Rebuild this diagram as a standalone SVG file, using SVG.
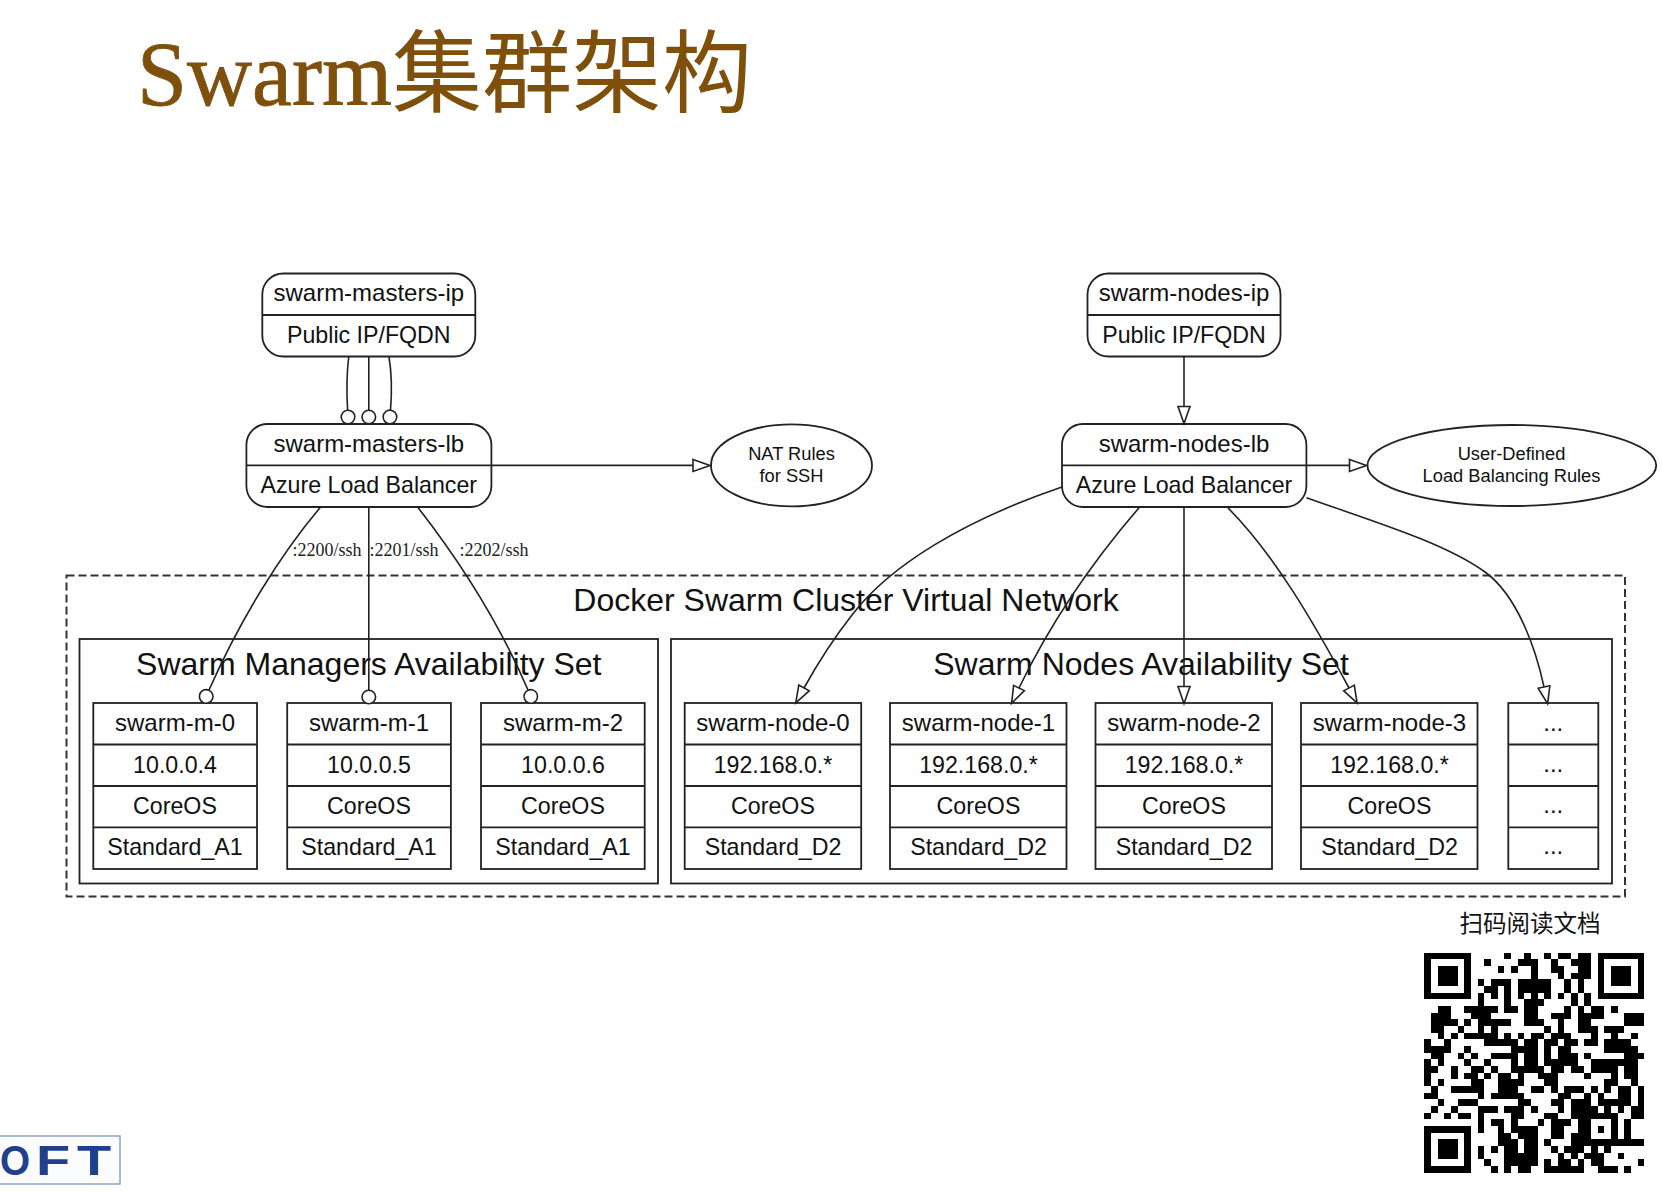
<svg xmlns="http://www.w3.org/2000/svg" width="1662" height="1192" viewBox="0 0 1662 1192">
<style>
text{font-family:"Liberation Sans",Arial,"Noto Sans CJK SC",sans-serif;fill:#111;text-anchor:middle}
.n{font-size:24px}
.m{font-size:23.2px}
.e{font-size:18.3px}
.c{font-size:32px}
.l{font-family:"Liberation Serif","Times New Roman",serif;font-size:18px;text-anchor:start;fill:#222}
.b{fill:#fff;stroke:#222;stroke-width:1.8}
.d{fill:none;stroke:#222;stroke-width:1.8}
.w{stroke:#222;stroke-width:1.6;fill:none}
.a{marker-end:url(#arrow)}
.o{marker-end:url(#odot)}
.g{font-family:"Liberation Sans",sans-serif;font-weight:700;font-size:43px;text-anchor:start;fill:#1f3f8f}
</style>
<defs>
<marker id="arrow" markerUnits="userSpaceOnUse" markerWidth="22" markerHeight="16" refX="1" refY="8" orient="auto" overflow="visible"><path d="M1 2L18 8L1 14Z" fill="#fff" stroke="#222" stroke-width="1.6"/></marker>
<marker id="odot" markerUnits="userSpaceOnUse" markerWidth="18" markerHeight="18" refX="1" refY="9" orient="auto" overflow="visible"><circle cx="8" cy="9" r="6.8" fill="#fff" stroke="#222" stroke-width="1.6"/></marker>
</defs>
<rect width="1662" height="1192" fill="#fff"/>
<text id="title" x="137" y="105" style="font-family:'Liberation Serif','Noto Sans CJK SC',serif;font-size:90px;text-anchor:start;fill:#7f4f0c"><tspan stroke="#7f4f0c" stroke-width="0.8">Swarm</tspan>集群架构</text>

<g id="cluster">
<rect x="66.5" y="575.5" width="1558.5" height="321" fill="none" stroke="#333" stroke-width="2" stroke-dasharray="8 4"/>
<text class="c" x="846" y="611">Docker Swarm Cluster Virtual Network</text>
</g>
<g id="managers-set">
<rect class="b" x="79.5" y="639" width="578.5" height="244.5"/>
<text class="c" x="368.8" y="675">Swarm Managers Availability Set</text>
</g>
<g id="nodes-set">
<rect class="b" x="671" y="639" width="941" height="244.5"/>
<text class="c" x="1141" y="675">Swarm Nodes Availability Set</text>
</g>

<g id="swarm-masters-ip">
<rect class="b" x="262.3" y="273.5" width="213" height="83" rx="21" ry="21"/>
<path class="d" d="M262.3 315H475.3"/>
<text class="n" x="368.8" y="301">swarm-masters-ip</text>
<text class="m" x="368.8" y="343">Public IP/FQDN</text>
</g>
<g id="swarm-masters-lb">
<rect class="b" x="246.4" y="424" width="245" height="83" rx="21" ry="21"/>
<path class="d" d="M246.4 465.4H491.4"/>
<text class="n" x="368.8" y="451.5">swarm-masters-lb</text>
<text class="m" x="368.8" y="493">Azure Load Balancer</text>
</g>
<g id="nat-rules">
<ellipse class="b" cx="791.5" cy="465.4" rx="80.5" ry="41"/>
<text class="e" x="791.5" y="460">NAT Rules</text>
<text class="e" x="791.5" y="481.5">for SSH</text>
</g>
<g id="swarm-nodes-ip">
<rect class="b" x="1087.5" y="273.5" width="193" height="83" rx="21" ry="21"/>
<path class="d" d="M1087.5 315H1280.5"/>
<text class="n" x="1184" y="301">swarm-nodes-ip</text>
<text class="m" x="1184" y="343">Public IP/FQDN</text>
</g>
<g id="swarm-nodes-lb">
<rect class="b" x="1062" y="424" width="244.4" height="83" rx="21" ry="21"/>
<path class="d" d="M1062 465.4H1306.4"/>
<text class="n" x="1184" y="451.5">swarm-nodes-lb</text>
<text class="m" x="1184" y="493">Azure Load Balancer</text>
</g>
<g id="lb-rules">
<ellipse class="b" cx="1511.8" cy="465.5" rx="144.4" ry="40.5"/>
<text class="e" x="1511.5" y="460">User-Defined</text>
<text class="e" x="1511.5" y="481.5">Load Balancing Rules</text>
</g>

<g id="swarm-m-0">
<rect class="b" x="93.3" y="703" width="163.7" height="166"/><path class="d" d="M93.3 744.5H257M93.3 786H257M93.3 827.3H257"/>
<text class="n" x="175" y="731">swarm-m-0</text><text class="m" x="175" y="772.5">10.0.0.4</text><text class="m" x="175" y="813.5">CoreOS</text><text class="m" x="175" y="855">Standard_A1</text>
</g>
<g id="swarm-m-1">
<rect class="b" x="287.2" y="703" width="163.7" height="166"/><path class="d" d="M287.2 744.5H450.9M287.2 786H450.9M287.2 827.3H450.9"/>
<text class="n" x="369" y="731">swarm-m-1</text><text class="m" x="369" y="772.5">10.0.0.5</text><text class="m" x="369" y="813.5">CoreOS</text><text class="m" x="369" y="855">Standard_A1</text>
</g>
<g id="swarm-m-2">
<rect class="b" x="481" y="703" width="163.7" height="166"/><path class="d" d="M481 744.5H644.7M481 786H644.7M481 827.3H644.7"/>
<text class="n" x="563" y="731">swarm-m-2</text><text class="m" x="563" y="772.5">10.0.0.6</text><text class="m" x="563" y="813.5">CoreOS</text><text class="m" x="563" y="855">Standard_A1</text>
</g>
<g id="swarm-node-0">
<rect class="b" x="684.7" y="703" width="176.5" height="166"/><path class="d" d="M684.7 744.5H861.2M684.7 786H861.2M684.7 827.3H861.2"/>
<text class="n" x="773" y="731">swarm-node-0</text><text class="m" x="773" y="772.5">192.168.0.*</text><text class="m" x="773" y="813.5">CoreOS</text><text class="m" x="773" y="855">Standard_D2</text>
</g>
<g id="swarm-node-1">
<rect class="b" x="890" y="703" width="176.5" height="166"/><path class="d" d="M890 744.5H1066.5M890 786H1066.5M890 827.3H1066.5"/>
<text class="n" x="978.5" y="731">swarm-node-1</text><text class="m" x="978.5" y="772.5">192.168.0.*</text><text class="m" x="978.5" y="813.5">CoreOS</text><text class="m" x="978.5" y="855">Standard_D2</text>
</g>
<g id="swarm-node-2">
<rect class="b" x="1095.5" y="703" width="176.5" height="166"/><path class="d" d="M1095.5 744.5H1272M1095.5 786H1272M1095.5 827.3H1272"/>
<text class="n" x="1184" y="731">swarm-node-2</text><text class="m" x="1184" y="772.5">192.168.0.*</text><text class="m" x="1184" y="813.5">CoreOS</text><text class="m" x="1184" y="855">Standard_D2</text>
</g>
<g id="swarm-node-3">
<rect class="b" x="1301" y="703" width="176.5" height="166"/><path class="d" d="M1301 744.5H1477.5M1301 786H1477.5M1301 827.3H1477.5"/>
<text class="n" x="1389.5" y="731">swarm-node-3</text><text class="m" x="1389.5" y="772.5">192.168.0.*</text><text class="m" x="1389.5" y="813.5">CoreOS</text><text class="m" x="1389.5" y="855">Standard_D2</text>
</g>
<g id="swarm-node-more">
<rect class="b" x="1508.3" y="703" width="90" height="166"/><path class="d" d="M1508.3 744.5H1598.3M1508.3 786H1598.3M1508.3 827.3H1598.3"/>
<text class="n" x="1553.3" y="731">...</text><text class="n" x="1553.3" y="772">...</text><text class="n" x="1553.3" y="813">...</text><text class="n" x="1553.3" y="854">...</text>
</g>

<g id="connectors">
<path class="w o" d="M348.7 357C346.5 375 346.5 392 347.6 410"/>
<path class="w o" d="M368.8 357V410"/>
<path class="w o" d="M389 357C392 375 392 392 390.5 410"/>
<path class="w a" d="M491.4 465.4H693"/>
<path class="w a" d="M1184 357V406.5"/>
<path class="w a" d="M1306.4 465.4H1349.5"/>
<path class="w o" d="M320.6 507C280 555 240 620 209 690"/>
<path class="w o" d="M368.8 507V690"/>
<path class="w o" d="M417.6 507C455 555 498 620 528 690"/>
<path class="w a" d="M1062 487C965 520 890 565 852 615C830 643 814 670 804 688"/>
<path class="w a" d="M1139.4 507.3C1087 568 1047 630 1019 688"/>
<path class="w a" d="M1184 507.3V686.5"/>
<path class="w a" d="M1227.4 507.3C1275 555 1315 625 1349 688"/>
<path class="w a" d="M1306.4 497.7C1375 522 1445 543 1485 572C1518 596 1536 650 1544 687"/>
<text class="l" x="292.5" y="556">:2200/ssh</text>
<text class="l" x="369.4" y="556">:2201/ssh</text>
<text class="l" x="459.5" y="556">:2202/ssh</text>
</g>

<text id="qr-caption" x="1530" y="931.5" style="font-family:'Noto Sans CJK SC',sans-serif;font-size:23.5px;fill:#111">扫码阅读文档</text>
<g id="qr" transform="translate(1424.3 952.7) scale(6.667)" shape-rendering="crispEdges">
<path fill-rule="evenodd" d="M0 0h7v7h-7zM1 1v5h5v-5zM2 2h3v3h-3zM26 0h7v7h-7zM27 1v5h5v-5zM28 2h3v3h-3zM0 26h7v7h-7zM1 27v5h5v-5zM2 28h3v3h-3z"/>
<path d="M12 0h1v1h-1zM15 0h1v1h-1zM18 0h1v1h-1zM20 0h2v1h-2zM23 0h2v1h-2z
M9 1h1v1h-1zM14 1h3v1h-3zM19 1h1v1h-1zM22 1h3v1h-3z
M11 2h1v1h-1zM13 2h1v1h-1zM16 2h1v1h-1zM19 2h2v1h-2zM23 2h2v1h-2z
M16 3h1v1h-1zM20 3h1v1h-1zM22 3h3v1h-3z
M8 4h1v1h-1zM10 4h3v1h-3zM14 4h3v1h-3zM17 4h2v1h-2zM21 4h1v1h-1zM23 4h1v1h-1z
M9 5h2v1h-2zM12 5h1v1h-1zM14 5h1v1h-1zM15 5h2v1h-2zM17 5h2v1h-2zM21 5h1v1h-1zM23 5h1v1h-1z
M8 6h1v1h-1zM10 6h1v1h-1zM12 6h1v1h-1zM14 6h1v1h-1zM16 6h1v1h-1zM18 6h1v1h-1zM20 6h1v1h-1zM22 6h1v1h-1zM24 6h1v1h-1z
M8 7h1v1h-1zM12 7h1v1h-1zM15 7h3v1h-3zM22 7h1v1h-1zM24 7h1v1h-1z
M2 8h2v1h-2zM6 8h5v1h-5zM12 8h2v1h-2zM15 8h2v1h-2zM21 8h1v1h-1zM23 8h1v1h-1zM25 8h2v1h-2zM28 8h1v1h-1z
M1 9h3v1h-3zM7 9h3v1h-3zM15 9h2v1h-2zM19 9h3v1h-3zM23 9h4v1h-4zM30 9h3v1h-3z
M1 10h4v1h-4zM6 10h1v1h-1zM8 10h5v1h-5zM15 10h3v1h-3zM20 10h1v1h-1zM23 10h2v1h-2zM30 10h3v1h-3z
M1 11h2v1h-2zM5 11h1v1h-1zM8 11h1v1h-1zM10 11h1v1h-1zM18 11h1v1h-1zM20 11h1v1h-1zM23 11h3v1h-3zM27 11h3v1h-3z
M2 12h1v1h-1zM4 12h1v1h-1zM6 12h5v1h-5zM12 12h1v1h-1zM14 12h1v1h-1zM16 12h2v1h-2zM19 12h3v1h-3zM25 12h1v1h-1zM28 12h1v1h-1zM31 12h1v1h-1z
M0 13h1v1h-1zM3 13h1v1h-1zM9 13h5v1h-5zM15 13h2v1h-2zM18 13h2v1h-2zM21 13h2v1h-2zM24 13h2v1h-2zM27 13h4v1h-4z
M0 14h4v1h-4zM6 14h1v1h-1zM13 14h4v1h-4zM18 14h1v1h-1zM20 14h2v1h-2zM27 14h5v1h-5z
M1 15h2v1h-2zM5 15h1v1h-1zM7 15h1v1h-1zM10 15h4v1h-4zM15 15h2v1h-2zM18 15h1v1h-1zM20 15h3v1h-3zM24 15h1v1h-1zM30 15h3v1h-3z
M0 16h1v1h-1zM2 16h1v1h-1zM6 16h1v1h-1zM9 16h1v1h-1zM13 16h1v1h-1zM15 16h2v1h-2zM18 16h5v1h-5zM25 16h7v1h-7z
M0 17h2v1h-2zM4 17h1v1h-1zM7 17h2v1h-2zM10 17h1v1h-1zM13 17h5v1h-5zM19 17h2v1h-2zM22 17h2v1h-2zM25 17h4v1h-4zM30 17h2v1h-2z
M0 18h1v1h-1zM4 18h1v1h-1zM6 18h2v1h-2zM9 18h1v1h-1zM11 18h2v1h-2zM14 18h1v1h-1zM17 18h3v1h-3zM24 18h1v1h-1zM28 18h1v1h-1zM30 18h2v1h-2z
M0 19h1v1h-1zM2 19h1v1h-1zM7 19h2v1h-2zM11 19h4v1h-4zM18 19h2v1h-2zM27 19h2v1h-2zM31 19h1v1h-1z
M1 20h1v1h-1zM4 20h5v1h-5zM11 20h3v1h-3zM16 20h2v1h-2zM19 20h1v1h-1zM21 20h3v1h-3zM25 20h1v1h-1zM27 20h1v1h-1zM29 20h2v1h-2zM32 20h1v1h-1z
M0 21h2v1h-2zM8 21h1v1h-1zM10 21h5v1h-5zM20 21h2v1h-2zM24 21h1v1h-1zM26 21h1v1h-1zM29 21h2v1h-2zM32 21h1v1h-1z
M2 22h1v1h-1zM5 22h3v1h-3zM14 22h2v1h-2zM19 22h2v1h-2zM22 22h3v1h-3zM26 22h5v1h-5zM32 22h1v1h-1z
M1 23h1v1h-1zM4 23h1v1h-1zM8 23h3v1h-3zM12 23h3v1h-3zM16 23h1v1h-1zM20 23h1v1h-1zM22 23h4v1h-4zM27 23h1v1h-1zM29 23h1v1h-1zM31 23h2v1h-2z
M0 24h1v1h-1zM3 24h1v1h-1zM5 24h2v1h-2zM8 24h1v1h-1zM13 24h2v1h-2zM18 24h2v1h-2zM22 24h7v1h-7zM31 24h2v1h-2z
M8 25h1v1h-1zM10 25h2v1h-2zM13 25h1v1h-1zM17 25h1v1h-1zM19 25h3v1h-3zM23 25h2v1h-2zM28 25h1v1h-1zM30 25h1v1h-1z
M8 26h1v1h-1zM11 26h1v1h-1zM13 26h3v1h-3zM16 26h1v1h-1zM19 26h2v1h-2zM23 26h2v1h-2zM26 26h1v1h-1zM28 26h1v1h-1zM30 26h1v1h-1z
M11 27h2v1h-2zM14 27h2v1h-2zM16 27h1v1h-1zM19 27h2v1h-2zM22 27h3v1h-3zM28 27h1v1h-1zM30 27h1v1h-1z
M11 28h3v1h-3zM15 28h2v1h-2zM18 28h1v1h-1zM22 28h11v1h-11z
M8 29h1v1h-1zM10 29h1v1h-1zM12 29h2v1h-2zM15 29h2v1h-2zM19 29h1v1h-1zM21 29h3v1h-3zM25 29h1v1h-1zM27 29h1v1h-1z
M8 30h1v1h-1zM12 30h5v1h-5zM20 30h1v1h-1zM22 30h1v1h-1zM24 30h3v1h-3zM29 30h1v1h-1z
M9 31h1v1h-1zM12 31h5v1h-5zM18 31h1v1h-1zM20 31h2v1h-2zM23 31h1v1h-1zM25 31h2v1h-2zM32 31h1v1h-1z
M10 32h1v1h-1zM12 32h1v1h-1zM14 32h2v1h-2zM18 32h5v1h-5zM23 32h1v1h-1zM26 32h3v1h-3zM30 32h1v1h-1z"/>
</g>

<g id="logo">
<rect x="-4" y="1136" width="124" height="48" fill="#fbfcfe" stroke="#8ea3c9" stroke-width="1.5"/>
<text class="g" transform="translate(0 1175) scale(0.9 1)">O</text>
<text class="g" transform="translate(36 1175) scale(1.3 1)">F</text>
<text class="g" transform="translate(77 1175) scale(1.3 1)">T</text>
</g>
</svg>
